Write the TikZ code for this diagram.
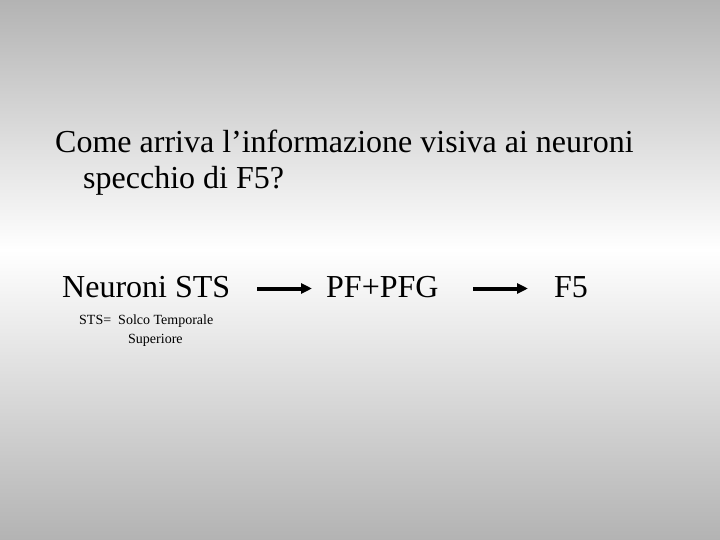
\documentclass[tikz,border=0pt]{standalone}
\usepackage{fontspec}
\setmainfont{Liberation Serif}
\usetikzlibrary{arrows.meta}
\definecolor{bggray}{RGB}{179,179,179}
\tikzset{
  big/.style={anchor=base west, inner sep=0pt, font=\fontsize{32}{38}\selectfont},
  small/.style={anchor=base west, inner sep=0pt, font=\fontsize{14}{16}\selectfont},
  flow/.style={line width=4pt, -{Triangle[length=11pt,width=10pt]}}
}
\begin{document}
\begin{tikzpicture}[x=1pt,y=-1pt]
\useasboundingbox (0,0) rectangle (720,540);
\shade[top color=bggray, bottom color=white] (0,0) rectangle (720,250.5);
\shade[top color=white, bottom color=bggray] (0,250) rectangle (720,540);
\node[big] (t1) at (55,153) {Come arriva l’informazione visiva ai neuroni};
\node[big] (t2) at (83,189) {specchio di F5?};
\node[big] (sts) at (62,297) {Neuroni STS};
\node[big] (pf) at (326,297) {PF+PFG};
\node[big] (f5) at (554,297) {F5};
\node[small] (n1) at (79,324) {STS=\ \ Solco Temporale};
\node[small] (n2) at (128,343) {Superiore};
\coordinate (a1s) at (257,288.5);
\coordinate (a1e) at (312,288.5);
\coordinate (a2s) at (473,288.5);
\coordinate (a2e) at (528,288.5);
\draw[flow] (a1s) -- (a1e);
\draw[flow] (a2s) -- (a2e);
\end{tikzpicture}
\end{document}
